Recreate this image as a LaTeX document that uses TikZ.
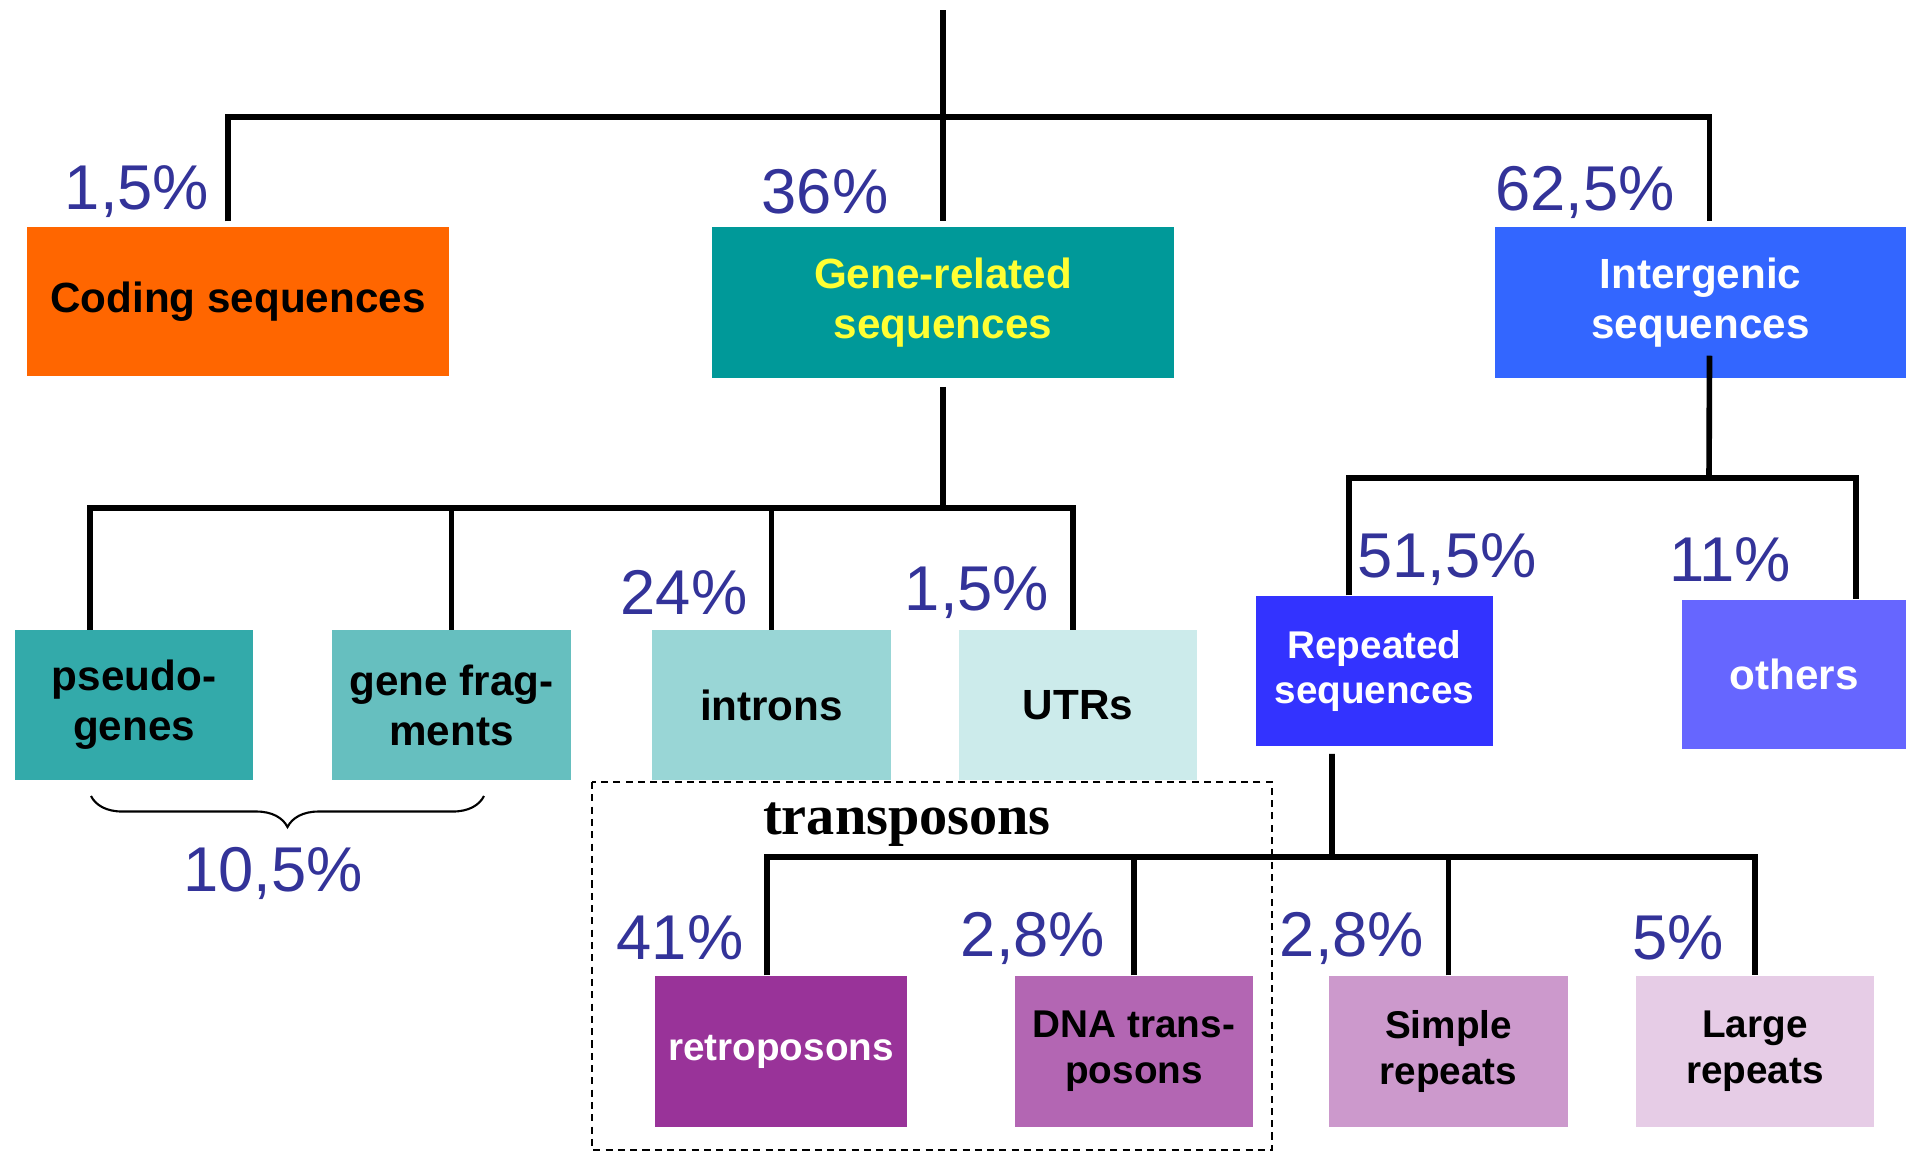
\documentclass[tikz,border=0pt]{standalone}
\usepackage{fontspec}
\setmainfont{Liberation Sans}
\newfontfamily\titlefont{Liberation Serif}
\usetikzlibrary{decorations.pathreplacing}

\definecolor{codecol}{RGB}{255,102,0}
\definecolor{genecol}{RGB}{0,153,153}
\definecolor{intercol}{RGB}{51,102,255}
\definecolor{pseudocol}{RGB}{51,170,170}
\definecolor{fragcol}{RGB}{102,191,191}
\definecolor{introncol}{RGB}{153,214,214}
\definecolor{utrcol}{RGB}{204,235,235}
\definecolor{repcol}{RGB}{51,51,255}
\definecolor{othercol}{RGB}{102,102,255}
\definecolor{retrocol}{RGB}{153,51,153}
\definecolor{dnacol}{RGB}{179,102,179}
\definecolor{simplecol}{RGB}{204,153,204}
\definecolor{largecol}{RGB}{230,204,230}
\definecolor{pctcol}{RGB}{51,51,153}
\definecolor{textyellow}{RGB}{255,255,51}

\tikzset{
    box/.style={inner sep=0pt, align=center, minimum width=2.38cm, minimum height=1.49cm,
        font=\fontsize{12}{14.2}\selectfont\bfseries},
    smallbox/.style={box, font=\fontsize{11}{13}\selectfont\bfseries},
    link/.style={line width=1.6pt, black},
    pct/.style={text=pctcol, inner sep=0pt, font=\fontsize{18}{20}\selectfont}
}

\begin{document}
\begin{tikzpicture}[x=0.01cm, y=-0.01cm]
    \fill[white] (0,0) rectangle (1906,1154);
    \useasboundingbox (0,0) rectangle (1906,1154);

    % transposon frame
    \draw[dash pattern=on 2pt off 1.5pt, line width=0.6pt] (592,782) rectangle (1272,1150);
    \node[font=\titlefont\fontsize{16}{18}\selectfont\bfseries] (transp) at (907,825) {transposons};

    % first level
    \node[box, fill=codecol, minimum width=4.22cm] (coding) at (238,301.5) {Coding sequences};
    \node[box, fill=genecol, text=textyellow, minimum width=4.62cm, minimum height=1.51cm] (gene) at (943,302.5) {Gene-related\\sequences};
    \node[box, fill=intercol, text=white, minimum width=4.11cm, minimum height=1.51cm] (inter) at (1700.5,302.5) {Intergenic\\sequences};

    % second level
    \node[box, fill=pseudocol] (pseudo) at (134,705) {pseudo-\\genes};
    \node[box, fill=fragcol] (frag) at (451.5,705) {gene frag-\\ments};
    \node[box, fill=introncol] (intron) at (771.5,705) {introns};
    \node[box, fill=utrcol] (utr) at (1078,705) {UTRs};
    \node[smallbox, fill=repcol, text=white, minimum width=2.37cm, minimum height=1.5cm] (rep) at (1374.5,671) {Repeated\\sequences};
    \node[box, fill=othercol, text=white, minimum width=2.24cm] (others) at (1794,674.5) {others};

    % third level
    \node[smallbox, fill=retrocol, text=white, minimum width=2.52cm, minimum height=1.51cm] (retro) at (781,1051.5) {retroposons};
    \node[smallbox, fill=dnacol, minimum height=1.51cm] (dna) at (1134,1051.5) {DNA trans-\\posons};
    \node[smallbox, fill=simplecol, minimum height=1.51cm] (simple) at (1448.5,1051.5) {Simple\\repeats};
    \node[smallbox, fill=largecol, minimum height=1.51cm] (large) at (1755,1051.5) {Large\\repeats};

    % tree
    \coordinate (root) at (943,10);
    \coordinate (bar1) at (943,117);
    \coordinate (bar2) at (943,508);
    \coordinate (bar3) at (1709,478);
    \coordinate (bar4) at (1332,857);

    \draw[link] (root) -- ([yshift=0.05cm]gene.north);
    \draw[link] ([xshift=-0.1cm,yshift=0.05cm]coding.north) |- (bar1) -| ([xshift=0.09cm,yshift=0.05cm]inter.north);

    \draw[link] ([yshift=-0.08cm]gene.south) -- (bar2);
    \draw[link] ([xshift=-0.44cm]pseudo.north) |- (bar2) -| ([xshift=-0.05cm]utr.north);
    \draw[link] (frag.north) -- (frag.north |- bar2);
    \draw[link] (intron.north) -- (intron.north |- bar2);

    \draw[link] ([xshift=0.09cm,yshift=0.23cm]inter.south) -- (bar3);
    \draw[link] ([xshift=-0.255cm]rep.north) |- (bar3) -| ([xshift=0.62cm]others.north);

    \draw[link] ([xshift=-0.425cm,yshift=-0.07cm]rep.south) -- (bar4);
    \draw[link] ([xshift=-0.14cm]retro.north) |- (bar4) -| (large.north);
    \draw[link] (dna.north) -- (dna.north |- bar4);
    \draw[link] (simple.north) -- (simple.north |- bar4);

    % brace under pseudogenes and fragments
    \draw[line width=0.6pt, decorate, decoration={brace, mirror, amplitude=0.31cm}] (91,796) -- (484,796);

    % percentages
    \foreach \px/\py/\val [count=\i] in {137/192/{1,5}, 825/192/36, 1585/192/{62,5},
        684/593/24, 977/593/{1,5}, 1447/560/{51,5}, 1730/560/11, 273/873/{10,5},
        680/938/41, 1033/938/{2,8}, 1352/938/{2,8}, 1678/938/5}
        \node[pct] (pct\i) at (\px,\py) {\val\%};
\end{tikzpicture}
\end{document}
